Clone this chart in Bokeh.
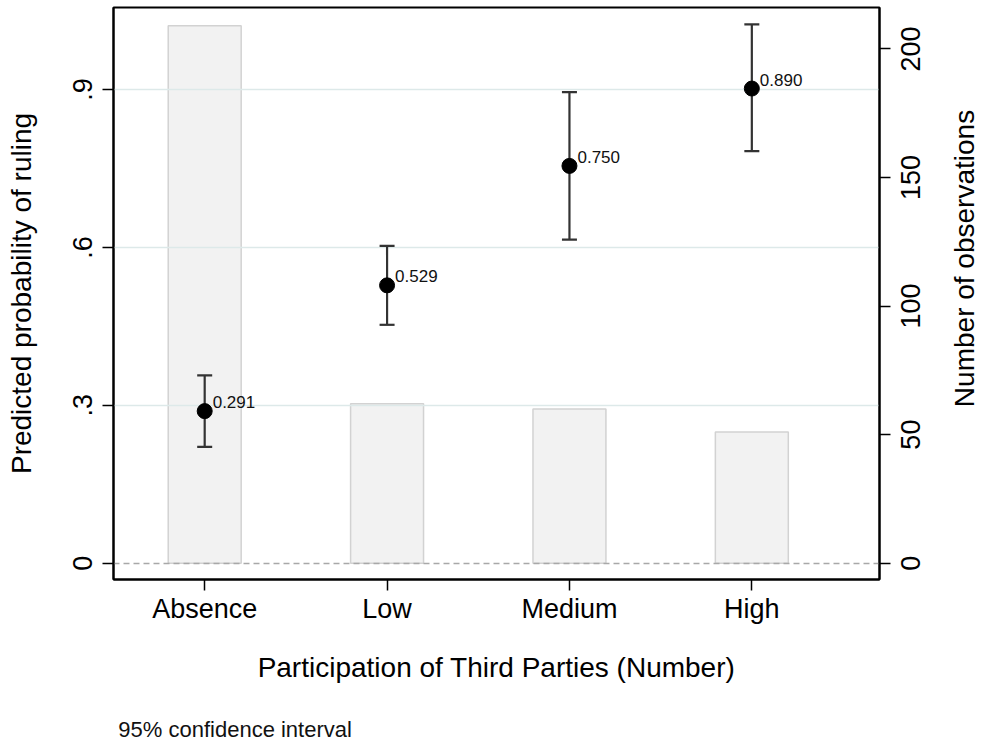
import math
from bokeh.plotting import figure
from bokeh.layouts import row
from bokeh.models import (Range1d, LinearAxis, FixedTicker, ColumnDataSource,
                          Whisker, TeeHead, CustomLabelingPolicy)
from bokeh.core.properties import value
from bokeh.embed import file_html
from bokeh.resources import INLINE

# ---- data ----
categories = ["Absence", "Low", "Medium", "High"]
x_pos = [1, 2, 3, 4]
probability = [0.289, 0.528, 0.755, 0.902]
prob_labels = ["0.291", "0.529", "0.750", "0.890"]
ci_lower = [0.221, 0.453, 0.615, 0.783]
ci_upper = [0.357, 0.603, 0.895, 1.024]
observations = [209, 62, 60, 51]
left_ticks = [0, 0.3, 0.6, 0.9]
left_tick_labels = ["0", ".3", ".6", ".9"]
right_ticks = [0, 50, 100, 150, 200]
right_tick_labels = [str(t) for t in right_ticks]
note = "95% confidence interval"
right_title = "Number of observations"

FONT = "Liberation Sans"
TICK_FS = 27
LAB_FS = 28

H = 744
BL, BT, BB = 113, 7, 165
MAIN_W, BR = 895, 15          # frame right edge at 880
SIDE_W = 981 - MAIN_W
x_lo, x_hi = 0.5, 4.7
obs_lo, obs_hi = -6.34, 216.1
frame_w = MAIN_W - BL - BR
frame_h = H - BT - BB
px_per_obs = frame_h / (obs_hi - obs_lo)

p = figure(width=MAIN_W, height=H,
           x_range=Range1d(x_lo, x_hi), y_range=Range1d(-0.031, 1.056),
           output_backend="svg", toolbar_location=None,
           min_border_left=BL, min_border_right=BR,
           min_border_top=BT, min_border_bottom=BB,
           background_fill_color="white", border_fill_color="white")
p.extra_y_ranges = {"obs": Range1d(obs_lo, obs_hi)}

p.xgrid.visible = False
p.ygrid.visible = False
p.outline_line_color = "black"
p.outline_line_width = 2

# bars (number of observations, right axis)
p.vbar(x=x_pos, top=observations, bottom=0, width=0.4, y_range_name="obs",
       fill_color="#f2f2f2", line_color="#d2d2d2", line_width=1.5)

# gridlines and zero line
p.hspan(y=left_ticks[1:], line_color="#dde9e9", line_width=1.5)
p.hspan(y=left_ticks[:1], line_color="#a8a8a8", line_width=1.3, line_dash="6 4")

# confidence intervals
src = ColumnDataSource(dict(x=x_pos, lo=ci_lower, hi=ci_upper, y=probability,
                            lab=prob_labels))
w = Whisker(base="x", lower="lo", upper="hi", source=src, dimension="height",
            line_color="#333333", line_width=2.2, level="annotation",
            upper_head=TeeHead(size=15, line_color="#333333", line_width=2.2),
            lower_head=TeeHead(size=15, line_color="#333333", line_width=2.2))
p.add_layout(w)

# points
p.scatter(x="x", y="y", source=src, size=15, fill_color="black",
          line_color="black", level="overlay")
p.text(x="x", y="y", text="lab", source=src, x_offset=8, y_offset=-9,
       text_font=value(FONT), text_font_size="17px", text_color="#111111",
       text_baseline="alphabetic", text_align="left", level="overlay")

# ---- axes ----
def style(ax):
    ax.axis_line_color = "black"
    ax.axis_line_width = 2
    ax.major_tick_line_color = "black"
    ax.major_tick_line_width = 1.5
    ax.major_tick_out = 11
    ax.major_tick_in = 0
    ax.minor_tick_out = 0
    ax.minor_tick_in = 0
    ax.major_label_text_font = FONT
    ax.major_label_text_font_size = f"{TICK_FS}px"
    ax.major_label_text_color = "black"
    ax.axis_label_text_font = FONT
    ax.axis_label_text_font_size = f"{LAB_FS}px"
    ax.axis_label_text_font_style = "normal"
    ax.axis_label_text_color = "black"

xa = p.xaxis[0]
style(xa)
xa.ticker = FixedTicker(ticks=x_pos)
xa.major_label_overrides = {k: v for k, v in zip(x_pos, categories)}
xa.axis_label = "Participation of Third Parties (Number)"
xa.major_label_standoff = 3
xa.axis_label_standoff = 25

ya = p.yaxis[0]
style(ya)
ya.ticker = FixedTicker(ticks=left_ticks)
ya.major_label_overrides = {k: v for k, v in zip(left_ticks, left_tick_labels)}
ya.major_label_orientation = "vertical"
ya.major_label_standoff = 10
ya.axis_label = "Predicted probability of ruling"
ya.axis_label_standoff = 34

# right axis: line and ticks (its texts are drawn in the side panel)
ra = LinearAxis(y_range_name="obs")
style(ra)
ra.ticker = FixedTicker(ticks=right_ticks)
ra.major_label_text_font_size = "1px"
ra.major_label_standoff = 0
ra.major_label_policy = CustomLabelingPolicy(code="""
try { for (let i = 0; i < indices.size; i++) { indices.unset(i) } } catch (e) {}
return indices
""")
p.add_layout(ra, "right")

# note below the chart, as a single label of an extra bottom axis
note_fs = 22
note_left_px = 5
note_w = 10.616 * note_fs
note_x = x_lo + (note_left_px + note_w / 2) / frame_w * (x_hi - x_lo)
na = LinearAxis()
style(na)
na.axis_line_color = None
na.major_tick_out = 0
na.ticker = FixedTicker(ticks=[note_x])
na.major_label_overrides = {note_x: note}
na.major_label_text_font_size = f"{note_fs}px"
na.major_label_text_color = "#111111"
na.major_label_standoff = 31
p.add_layout(na, "below")

# ---- side panel with right-axis tick labels and title (bottom-to-top) ----
s = figure(width=SIDE_W, height=H, x_range=Range1d(0, SIDE_W),
           y_range=Range1d(obs_lo, obs_hi),
           output_backend="svg", toolbar_location=None,
           x_axis_location=None, y_axis_location=None,
           min_border_left=0, min_border_right=0,
           min_border_top=BT, min_border_bottom=BB,
           background_fill_color="white", border_fill_color="white",
           outline_line_color=None)
s.xgrid.visible = False
s.ygrid.visible = False

tick_center_px = 910            # page x of the tick labels' centre
s.text(x=[tick_center_px - MAIN_W] * len(right_ticks), y=right_ticks,
       text=right_tick_labels, angle=math.pi / 2,
       text_align="center", text_baseline="middle",
       text_font=value(FONT), text_font_size=f"{TICK_FS}px", text_color="black")

title_center_x_px = 964
title_center_px = 258
title_y = obs_lo + (H - BB - title_center_px) / px_per_obs
s.text(x=[title_center_x_px - MAIN_W], y=[title_y], text=[right_title],
       angle=math.pi / 2, text_align="center", text_baseline="middle",
       text_font=value(FONT), text_font_size=f"{LAB_FS}px", text_color="black")

layout = row(p, s, spacing=0)
open("out.html", "w").write(file_html(layout, INLINE))
